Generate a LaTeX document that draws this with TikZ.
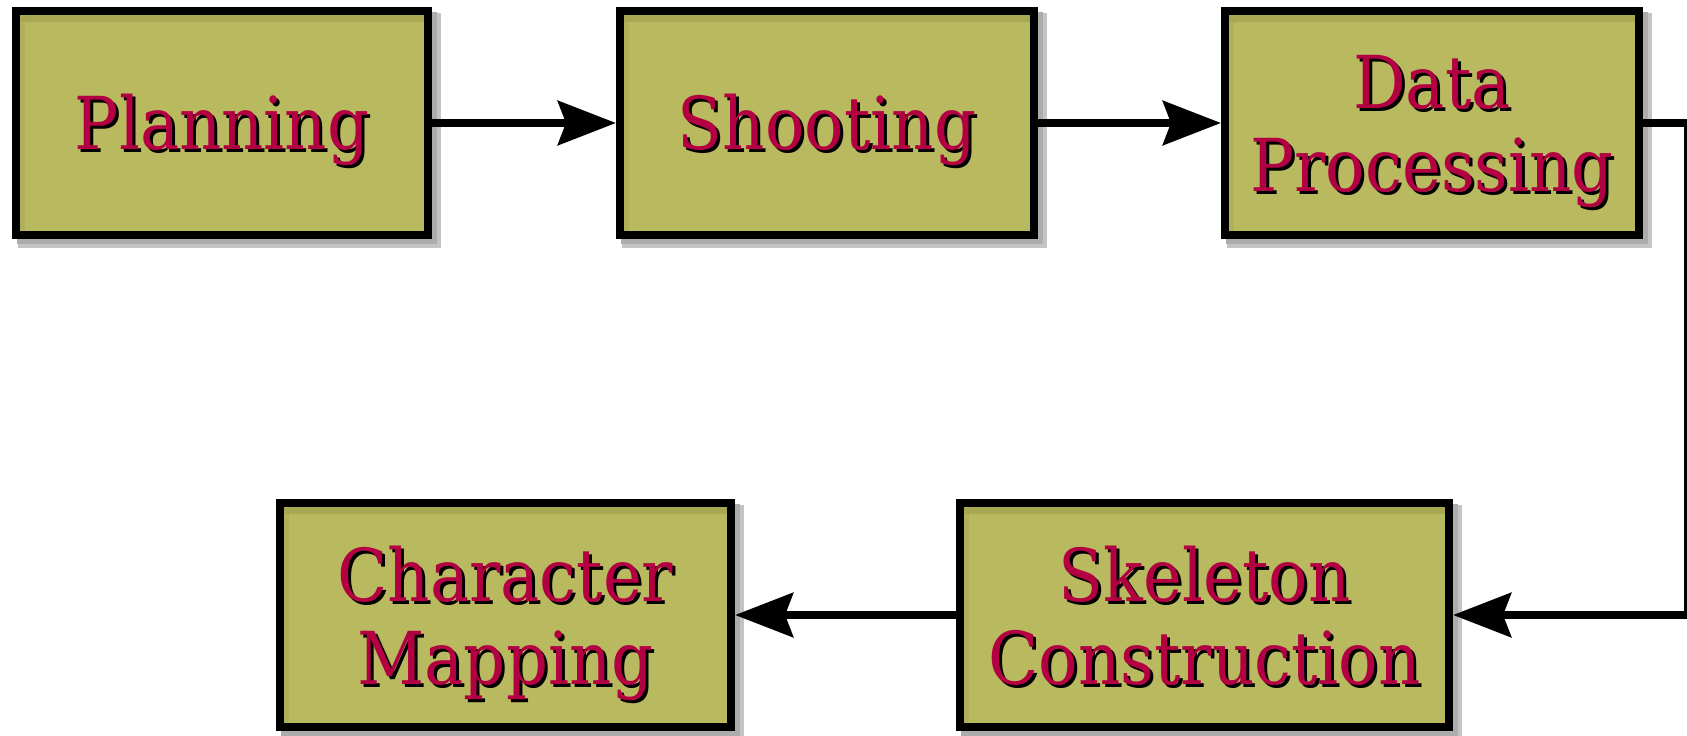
\documentclass[tikz,border=0pt]{standalone}
\usepackage{fontspec}
\setmainfont{DejaVu Serif}[FakeStretch=0.9]
\usetikzlibrary{arrows.meta,backgrounds}
\definecolor{boxfill}{RGB}{185,185,96}
\definecolor{boxband}{RGB}{168,168,82}
\definecolor{boxbandl}{RGB}{176,176,90}
\definecolor{txtc}{RGB}{178,0,66}
\definecolor{shadowa}{RGB}{196,196,196}
\definecolor{shadowb}{RGB}{172,172,172}
\newcommand\shtxt[1]{\leavevmode\rlap{\kern3pt\lower3pt\hbox{\color{black}#1}}\hbox{\color{txtc}#1}}
\newcommand\twolines[2]{\vtop{\halign{\hfil##\hfil\cr\shtxt{#1}\cr\shtxt{#2}\cr}}}
\begin{document}
\begin{tikzpicture}[x=1pt,y=-1pt,
  stepbox/.style={draw=black, line width=8pt, fill=boxfill, rectangle, inner sep=0pt, minimum height=224pt},
  lbl/.style={inner sep=0pt, anchor=base, font=\fontsize{73}{83}\selectfont},
  conn/.style={line width=8pt, -{Stealth[length=58pt,width=44pt,inset=8pt]}}]
\useasboundingbox (0,0) rectangle (1687,736);
\node[stepbox, minimum width=412pt] (plan) at (222,123) {};
\node[stepbox, minimum width=414pt] (shoot) at (827,123) {};
\node[stepbox, minimum width=414pt] (dp) at (1432,123) {};
\node[stepbox, minimum width=451pt] (char) at (505.5,615) {};
\node[stepbox, minimum width=489pt] (skel) at (1204.5,615) {};
\foreach \n in {plan,shoot,dp,char,skel}{
  \begin{pgfonlayer}{background}
    \fill[shadowa] ([shift={(6,6)}]\n.north west) rectangle ([shift={(9,9)}]\n.south east);
    \fill[shadowb] ([shift={(5,5)}]\n.north west) rectangle ([shift={(5,5)}]\n.south east);
  \end{pgfonlayer}
  \fill[boxbandl] ([shift={(8,8)}]\n.north west) rectangle ([shift={(13,-8)}]\n.south west);
  \fill[boxband] ([shift={(8,8)}]\n.north west) rectangle ([shift={(-8,15)}]\n.north east);
}
\node[lbl] (plan-t) at (222,149.5) {\shtxt{Planning}};
\node[lbl] (shoot-t) at (827,149.5) {\shtxt{Shooting}};
\node[lbl] (dp-t) at (1432,108) {\twolines{Data}{Processing}};
\node[lbl] (char-t) at (505.5,601) {\twolines{Character}{Mapping}};
\node[lbl] (skel-t) at (1204.5,601) {\twolines{Skeleton}{Construction}};
\coordinate (rc) at (1687.5,615);
\draw[conn] (plan.east) -- (shoot.west);
\draw[conn] (shoot.east) -- (dp.west);
\draw[conn] (dp.east) -| (rc) -- (skel.east);
\draw[conn] (skel.west) -- (char.east);
\end{tikzpicture}
\end{document}
